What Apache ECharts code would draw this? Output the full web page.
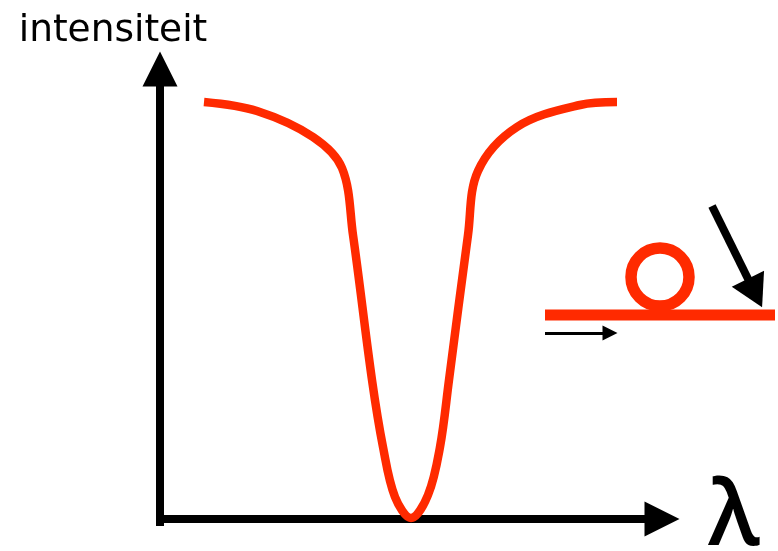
<!DOCTYPE html>
<html>
<head>
<meta charset="utf-8">
<title>intensiteit</title>
<script src="https://cdn.jsdelivr.net/npm/echarts@6/dist/echarts.min.js"></script>
<style>
html,body{margin:0;padding:0;background:#fff;}
#chart{width:778px;height:551px;}
</style>
</head>
<body>
<div id="chart"></div>
<script>
// spectrum
var wavelength = [44, 97, 153, 182, 193, 212, 223, 235, 251, 268, 280, 289, 308, 318, 357, 420, 457];
var intensity = [417, 408, 382, 351, 284, 139, 72, 22, 1, 24, 72, 139, 284, 348, 392, 414, 417];

// inset: waveguide, ring and the two arrows
var guideX = [0, 230];
var guideY = [25, 25];
var ringCentre = [115, 63];
var bigArrow = [[167, 134], [210, 47]];
var smallArrow = [[0, 7], [65, 7]];

var red = "#ff2a00";
var myChart = echarts.init(document.getElementById("chart"));
var option = {
    animation: false,
    backgroundColor: "#fff",
    grid: [
        {left: 160, right: 116, top: 69, bottom: 25, outerBoundsMode: "none"},
        {left: 545, width: 230, top: 190, height: 150}
    ],
    xAxis: [
        {
            type: "value",
            gridIndex: 0,
            min: 0,
            max: 502,
            name: "λ",
            nameLocation: "end",
            nameGap: 46,
            nameTextStyle: {color: "#000", fontSize: 90, fontWeight: 600, fontFamily: "Open Sans", verticalAlign: "middle", padding: [72, 0, 0, 0]},
            axisLine: {
                show: true,
                onZero: true,
                symbol: ["none", "triangle"],
                symbolSize: [35, 35],
                lineStyle: {color: "#000", width: 8}
            },
            axisTick: {show: false},
            axisLabel: {show: false},
            splitLine: {show: false}
        },
        {
            type: "value",
            gridIndex: 1,
            min: 0,
            max: 230,
            show: false
        }
    ],
    yAxis: [
        {
            type: "value",
            gridIndex: 0,
            min: -7,
            max: 450,
            name: "intensiteit",
            nameLocation: "end",
            nameGap: 19,
            nameTextStyle: {color: "#000", fontSize: 37.5, fontFamily: "DejaVu Sans", align: "center", padding: [0, 94, 0, 0]},
            axisLine: {
                show: true,
                symbol: ["none", "triangle"],
                symbolSize: [35, 35],
                lineStyle: {color: "#000", width: 8, cap: "butt"}
            },
            axisTick: {show: false},
            axisLabel: {show: false},
            splitLine: {show: false}
        },
        {
            type: "value",
            gridIndex: 1,
            min: 0,
            max: 150,
            show: false
        }
    ],
    series: [
        {
            name: "spectrum",
            type: "line",
            xAxisIndex: 0,
            yAxisIndex: 0,
            smooth: 0.35,
            showSymbol: false,
            clip: false,
            lineStyle: {color: red, width: 8.5, join: "round"},
            data: wavelength.map(function (w, i) { return [w, intensity[i]]; }),
            z: 5
        },
        {
            name: "waveguide",
            type: "line",
            xAxisIndex: 1,
            yAxisIndex: 1,
            showSymbol: false,
            clip: false,
            lineStyle: {color: red, width: 11},
            data: guideX.map(function (x, i) { return [x, guideY[i]]; }),
            markLine: {
                silent: true,
                animation: false,
                label: {show: false},
                emphasis: {disabled: true},
                data: [
                    [
                        {coord: bigArrow[0], symbol: "none", lineStyle: {color: "#000", width: 8, type: "solid"}},
                        {coord: bigArrow[1], symbol: "triangle", symbolSize: [36, 32]}
                    ],
                    [
                        {coord: smallArrow[0], symbol: "none", lineStyle: {color: "#000", width: 3, type: "solid"}},
                        {coord: smallArrow[1], symbol: "triangle", symbolSize: [15, 15]}
                    ]
                ]
            }
        },
        {
            name: "ring",
            type: "scatter",
            xAxisIndex: 1,
            yAxisIndex: 1,
            symbol: "circle",
            symbolSize: 58,
            clip: false,
            itemStyle: {color: "rgba(0,0,0,0)", borderColor: red, borderWidth: 11.5, opacity: 1},
            data: [ringCentre]
        }
    ]
};
myChart.setOption(option);
</script>
</body>
</html>
